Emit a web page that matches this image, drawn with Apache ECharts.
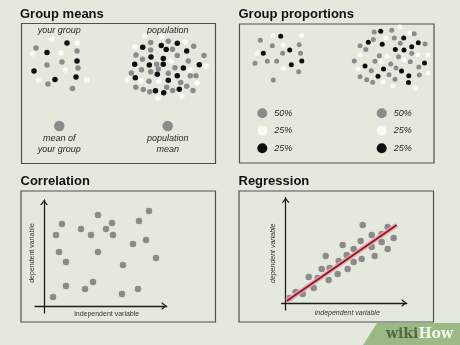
<!DOCTYPE html>
<html>
<head>
<meta charset="utf-8">
<script src="https://cdn.jsdelivr.net/npm/echarts@6/dist/echarts.min.js"></script>
<style>
  html, body { margin: 0; padding: 0; background: #e3eadd; }
  #chart { width: 460px; height: 345px; }
</style>
</head>
<body>
<div id="chart"></div>
<script>
// ---- Group means: a small sample and the whole population ----
const sampleGray  = [[15,25],[56,28],[41,39],[26,42],[57,45],[27,61],[51.5,65.5]];
const sampleBlack = [[46,20],[26,29.5],[56,38],[13,48],[55,54],[34,56.5]];
const sampleWhite = [[30.7,16.3],[56.5,20],[11.5,31],[17.3,57],[65.7,57],[40,30],[44,47]];

const popGray = [[129.7,19.5],[147.3,18.3],[172.7,23.2],[129.7,27],[151.5,26.2],[115,32],[121.5,36.2],
  [156.3,32.5],[183,32.5],[167.3,38],[135.7,41.3],[154,44.7],[120.5,46.7],[137.3,46],[110.3,50],
  [129.7,48.7],[147.3,50.3],[169.3,52.8],[175,52.8],[128,58.3],[159.7,59.5],[114.8,64.3],[122.3,66.6],
  [128.7,68.7],[145.7,64.3],[151.7,67.4],[165.7,63.3],[172,67.4]];
const popBlack = [[156.3,20.3],[121.7,24.2],[140.3,22.5],[145.2,26.5],[165.7,28],[130,34],[142.3,35.5],
  [113.7,41.3],[128.3,42],[142.3,41.2],[178.3,41.7],[162.3,45],[136.3,51.2],[114.3,54.7],[156.3,52.8],
  [147.3,57.3],[134.5,67.8],[142.7,69.7],[158.3,66.3]];
const popWhite = [[164,19],[106,57],[120,58],[138,58],[150,38],[176,60],[185,43],[114,24],[137,75],
  [161,73],[124,13],[141,14],[169,47]];

const meanDots = [[38.3,103],[146.7,103]];

// ---- Group proportions ----
const propSampleGray  = [[21.3,16.3],[33.3,21.7],[60.2,20.7],[43.7,29.3],[61.5,29.3],[16,39.3],[28.3,37.3],[37.7,37.3],[59.7,47.7],[34.3,56]];
const propSampleBlack = [[41.7,12.3],[24.3,29.3],[50.7,26],[62.8,37],[52.3,40.7]];
const propSampleWhite = [[34,11.4],[62.7,11.4],[18.5,29.6],[44.6,44.3],[44.3,21]];

const propPopGray = [[135.2,8],[152.7,6.3],[175.2,9.7],[134.3,15.5],[155.3,14],[121,21.7],[126.8,25.5],
  [161.3,19.3],[186,20],[172.7,29.3],[140.3,31.8],[159.5,32.7],[136,37.3],[115.3,37],[151.7,40],
  [171.3,37.7],[179.8,43],[132.3,46.7],[121,52.7],[127.7,55.7],[150,50.8],[133.7,58.2],[156,55.2],
  [180.3,51],[157,44]];
const propPopBlack = [[141.7,7.3],[129.3,18.2],[164.7,14],[143.2,20.3],[172.7,22.7],[179.3,18.8],
  [156.3,25.5],[165,26],[185.5,39],[126,42],[144.5,45],[162.5,47],[139,52.3],[169.8,51.8],[169.5,58.5]];
const propPopWhite = [[170.3,8.7],[153.7,62],[147,14],[121,31],[189,31],[148,32],[165,36],[142,38],
  [119,45],[144,58],[176,64],[189,49],[179,31],[161,3]];

const shareLabels = ['50%', '25%', '25%'];
const legendRowsY = [89.3, 106.7, 124.3];
const legendColsX = [23.3, 142.7];

// ---- Correlation: no relationship ----
const corrPoints = [[54,91],[105,95],[18,82],[68,83],[95,85],[12,71],[37,77],[47,71],[62,77],[69,71],
  [89,62],[102,66],[15,54],[54,54],[22,44],[112,48],[79,41],[49,24],[22,20],[41,17],[9,9],[78,12],[94,17]];

// ---- Regression: points and fitted line ----
const regPoints = [[77,78],[102,76],[86,68],[96,69],[108,65],[57,58],[75,62],[68,54],[96,61],[86,56],
  [102,54],[61,48],[40,47],[89,47],[76,44],[53,42],[68,41],[36,34],[44,35],[62,34],[52,29],[23,26],
  [32,25],[43,23],[28,15],[10,11],[17,9],[4,5]];
const regLine = [[1,2],[111,78]];

const GRAY = '#8b8b8b', BLACK = '#0e0e0e', WHITE = '#f9fbf6', INK = '#1c1c1c';
const arrowPath = 'path://M8,0 L16,10 L12.6,10 L8,3.6 L3.4,10 L0,10 Z';

const chart = echarts.init(document.getElementById('chart'));

function dots(g, data, color, size, extra) {
  const s = {
    type: 'scatter', xAxisIndex: g, yAxisIndex: g, data: data, symbolSize: size,
    itemStyle: { color: color, opacity: 1 }, silent: true, z: 3
  };
  return Object.assign(s, extra || {});
}

function plainAxis(g, min, max, inverse) {
  return { type: 'value', gridIndex: g, min: min, max: max, inverse: !!inverse, show: false };
}

function arrowAxis(g, min, max) {
  return {
    type: 'value', gridIndex: g, min: min, max: max,
    axisLine: { show: true, onZero: true, symbol: ['none', arrowPath], symbolSize: [8, 5],
      symbolOffset: [0, -2.5], lineStyle: { color: INK, width: 1.3 } },
    axisTick: { show: false }, axisLabel: { show: false }, splitLine: { show: false }
  };
}

const legendData = [];
legendColsX.forEach(function (x) {
  [GRAY, WHITE, BLACK].forEach(function (c, i) {
    legendData.push({ value: [x, legendRowsY[i]], itemStyle: { color: c }, name: shareLabels[i] });
  });
});

const italic = { fontFamily: 'Liberation Sans, Arial, sans-serif', fontStyle: 'italic', fontSize: 9, fill: '#262626' };
function label(x, y, text, extra) {
  return { type: 'text', x: x, y: y, silent: true,
    style: Object.assign({ text: text, align: 'center', verticalAlign: 'middle' }, italic, extra || {}) };
}
function title(x, y, text) {
  return { type: 'text', x: x, y: y, silent: true,
    style: { text: text, fill: '#111', font: 'bold 13px "Liberation Sans", Arial, sans-serif', verticalAlign: 'middle' } };
}
function box(x, y, w, h) {
  return { type: 'rect', silent: true, shape: { x: x, y: y, width: w, height: h },
    style: { fill: 'none', stroke: '#505050', lineWidth: 1.2 } };
}

chart.setOption({
  backgroundColor: '#e3eadd',
  animation: false,
  grid: [
    { left: 21, top: 23, width: 195, height: 140 },
    { left: 239, top: 24, width: 195, height: 139 },
    { left: 35, top: 200, width: 131.7, height: 113 },
    { left: 281.7, top: 197.7, width: 125, height: 112.3 }
  ],
  xAxis: [
    plainAxis(0, 0, 195),
    plainAxis(1, 0, 195),
    arrowAxis(2, -9, 122.7),
    arrowAxis(3, -4, 121)
  ],
  yAxis: [
    plainAxis(0, 0, 140, true),
    plainAxis(1, 0, 139, true),
    arrowAxis(2, -7, 106),
    arrowAxis(3, -7, 105.3)
  ],
  series: [
    dots(0, sampleGray, GRAY, 5.5),
    dots(0, sampleBlack, BLACK, 5.5),
    dots(0, sampleWhite, WHITE, 5.5),
    dots(0, popGray, GRAY, 5.5),
    dots(0, popBlack, BLACK, 5.5),
    dots(0, popWhite, WHITE, 5.5),
    dots(0, meanDots, GRAY, 10.5),
    dots(1, propSampleGray, GRAY, 5),
    dots(1, propSampleBlack, BLACK, 5),
    dots(1, propSampleWhite, WHITE, 5),
    dots(1, propPopGray, GRAY, 5),
    dots(1, propPopBlack, BLACK, 5),
    dots(1, propPopWhite, WHITE, 5),
    dots(1, legendData, GRAY, 10, {
      label: { show: true, position: 'right', distance: 7, formatter: function (p) { return p.name; },
        fontFamily: 'Liberation Sans, Arial, sans-serif', fontStyle: 'italic', fontSize: 9, color: '#262626' }
    }),
    dots(2, corrPoints, GRAY, 6.5),
    dots(3, regPoints, GRAY, 6.5),
    { type: 'line', xAxisIndex: 3, yAxisIndex: 3, data: regLine, symbol: 'none', silent: true, z: 4,
      lineStyle: { color: '#eba2aa', width: 5, opacity: 0.85 } },
    { type: 'line', xAxisIndex: 3, yAxisIndex: 3, data: regLine, symbol: 'none', silent: true, z: 5,
      lineStyle: { color: '#8a1a2b', width: 1.8 } }
  ],
  graphic: [
    box(21.5, 23.5, 194, 140),
    box(239.5, 24, 194.5, 139),
    box(21, 191, 194.5, 131),
    box(239, 191, 194.5, 131),
    title(20, 14.5, 'Group means'),
    title(238.5, 14.5, 'Group proportions'),
    title(20.5, 181, 'Correlation'),
    title(238.5, 181, 'Regression'),
    label(59.3, 30.7, 'your group'),
    label(167.7, 30.7, 'population'),
    label(59.3, 143.7, 'mean of\nyour group', { lineHeight: 10.7 }),
    label(167.7, 143.7, 'population\nmean', { lineHeight: 10.7 }),
    Object.assign(label(31.7, 253, 'dependent variable', { fontStyle: 'normal', fontSize: 7, fill: '#333' }), { rotation: Math.PI / 2 }),
    label(106.7, 314.5, 'independent variable', { fontStyle: 'normal', fontSize: 7, fill: '#333' }),
    Object.assign(label(272.7, 253.3, 'dependent variable', { fontSize: 7, fill: '#333' }), { rotation: Math.PI / 2 }),
    label(347.3, 313, 'independent variable', { fontSize: 7, fill: '#333' }),
    { type: 'polygon', silent: true, shape: { points: [[363,345],[377,323],[460,323],[460,345]] },
      style: { fill: '#9bb985' } },
    { type: 'text', x: 386, y: 334.5, silent: true,
      style: { text: '{a|wiki}{b|How}', verticalAlign: 'middle',
        rich: {
          a: { fill: '#4e6a3f', fontFamily: 'DejaVu Serif, serif', fontWeight: 'bold', fontSize: 14 },
          b: { fill: '#f2f6ec', fontFamily: 'DejaVu Serif, serif', fontWeight: 'bold', fontSize: 14 }
        } } }
  ]
});
</script>
</body>
</html>
